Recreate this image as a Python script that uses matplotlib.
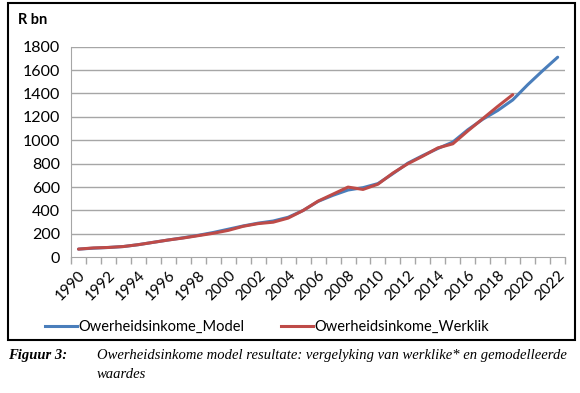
import numpy as np
import matplotlib
matplotlib.use('Agg')
import matplotlib.pyplot as plt
from matplotlib.patches import Rectangle
from matplotlib.lines import Line2D

years = list(range(1990, 2023))
model = [70, 78, 84, 92, 108, 128, 148, 167, 188, 212, 240, 268, 292, 310, 342,
         400, 478, 530, 575, 595, 630, 715, 805, 870, 930, 985, 1090, 1180,
         1255, 1345, 1475, 1595, 1710]
werklik = [70, 80, 84, 92, 108, 128, 148, 165, 185, 205, 230, 265, 288, 300, 335,
           400, 480, 540, 600, 580, 625, 720, 800, 865, 935, 970, 1080, 1185,
           1290, 1390]
yticks = [0, 200, 400, 600, 800, 1000, 1200, 1400, 1600, 1800]

blue = '#4a7ebb'
red = '#be4b48'
grid = '#a6a6a6'
plt.rcParams['font.family'] = ['Lato', 'DejaVu Sans']

fig = plt.figure(figsize=(5.8, 3.93), dpi=100)
ax = fig.add_axes([0.1224, 0.3453, 0.852, 0.5359])

xm = np.arange(len(model))
xw = np.arange(len(werklik))
ax.plot(xm, model, color=blue, lw=2.2, solid_capstyle='round', zorder=3)
ax.plot(xw, werklik, color=red, lw=2.2, solid_capstyle='round', zorder=4)

ax.set_xlim(-0.5, len(years) - 0.5)
ax.set_ylim(0, 1800)
ax.set_yticks(yticks)
ax.set_yticklabels([str(v) for v in yticks], fontsize=11.5)
ax.tick_params(axis='y', length=0, pad=8)
for v in yticks[1:]:
    ax.axhline(v, color=grid, lw=1.0, zorder=1)

# tick marks between categories, labels every second year
ax.set_xticks(np.arange(len(years) + 1) - 0.5)
ax.set_xticklabels([])
ax.tick_params(axis='x', which='major', length=5, color=grid, width=1)
ax.set_xticks(xm[::2], minor=True)
ax.set_xticklabels([str(y) for y in years[::2]], minor=True, rotation=45,
                   ha='right', va='top', rotation_mode='anchor', fontsize=11)
ax.tick_params(axis='x', which='minor', length=0, pad=8)

for s in ['top', 'right']:
    ax.spines[s].set_visible(False)
ax.spines['left'].set_color(grid)
ax.spines['bottom'].set_color(grid)

fig.text(18 / 580, 1 - 20 / 393, 'R bn', fontsize=10.5, fontweight='bold',
         va='center', ha='left')

handles = [Line2D([], [], color=blue, lw=2.2), Line2D([], [], color=red, lw=2.2)]
fig.legend(handles, ['Owerheidsinkome_Model', 'Owerheidsinkome_Werklik'],
           loc='center', bbox_to_anchor=(0.46, 1 - 327 / 393), ncol=2,
           frameon=False, fontsize=10.5, handlelength=2.2, handletextpad=0.1,
           columnspacing=2.5)

fig.patches.append(Rectangle((8 / 580, 1 - 340 / 393), 567 / 580, 337 / 393,
                             transform=fig.transFigure, fill=False,
                             edgecolor='black', lw=1.5))

fig.text(8 / 580, 1 - 356 / 393, 'Figuur 3:', family='Liberation Serif',
         style='italic', fontweight='bold', fontsize=10.5, va='center')
fig.text(97 / 580, 1 - 356 / 393,
         'Owerheidsinkome model resultate: vergelyking van werklike* en gemodelleerde',
         family='Liberation Serif', style='italic', fontsize=10.5, va='center')
fig.text(97 / 580, 1 - 374 / 393, 'waardes', family='Liberation Serif',
         style='italic', fontsize=10.5, va='center')

fig.savefig('out.png', dpi=100)
